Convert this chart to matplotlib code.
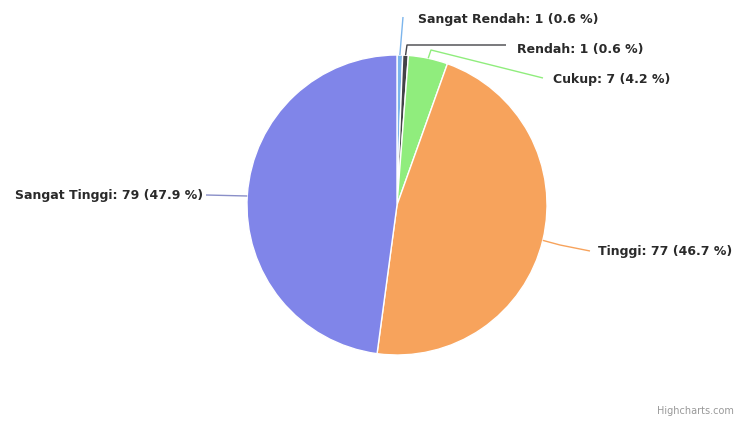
import numpy as np
import matplotlib
matplotlib.use("Agg")
import matplotlib.pyplot as plt

# data
categories = ["Sangat Rendah", "Rendah", "Cukup", "Tinggi", "Sangat Tinggi"]
counts = [1, 1, 7, 77, 79]
colors = ["#7cb5ec", "#434348", "#90ed7d", "#f7a35c", "#8085e9"]

W, H = 749, 422
cx, cy, r = 397, H - 205, 150

fig = plt.figure(figsize=(W / 100, H / 100), dpi=100)
ax = fig.add_axes([0, 0, 1, 1])

wedges, _ = ax.pie(counts, colors=colors, startangle=90, counterclock=False,
                   center=(cx, cy), radius=r, frame=True,
                   wedgeprops=dict(edgecolor="white", linewidth=1))
ax.set_xlim(0, W)
ax.set_ylim(0, H)
ax.set_aspect("equal")
ax.axis("off")

total = sum(counts)

# label layout in pixel coords (from top-left): text x, text y, align, path points
layout = {
    "Sangat Rendah": (418, 19, "left", [(403, 17)]),
    "Rendah": (517, 49, "left", [(407, 45), (506, 45)]),
    "Cukup": (553, 80, "left", [(431, 50), (543, 78)]),
    "Tinggi": (598, 252, "left", [(560, 245), (590, 251)]),
    "Sangat Tinggi": (203, 195, "right", [(206, 195)]),
}

for w, name, n, col in zip(wedges, categories, counts, colors):
    tx, ty, ha, pts = layout[name]
    mid = np.deg2rad((w.theta1 + w.theta2) / 2)
    ax_, ay_ = cx + r * np.cos(mid), cy + r * np.sin(mid)
    if name == "Sangat Tinggi":
        dy = (H - 196) - cy
        ax_, ay_ = cx - np.sqrt(r ** 2 - dy ** 2), H - 196
    xs = [ax_] + [p[0] for p in pts]
    ys = [ay_] + [H - p[1] for p in pts]
    lc = col if name != "Sangat Tinggi" else "#8a8fc8"
    ax.plot(xs, ys, color=lc, lw=1, solid_capstyle="butt")
    pct = 100 * n / total
    ax.text(tx, H - ty, f"{name}: {n} ({pct:.1f} %)", ha=ha, va="center",
            fontsize=9, fontweight="bold", color="#2a2a2a")

ax.text(734, H - 411, "Highcharts.com", ha="right", va="center",
        fontsize=7, color="#999999")

fig.savefig("out.png", dpi=100, facecolor="white")
